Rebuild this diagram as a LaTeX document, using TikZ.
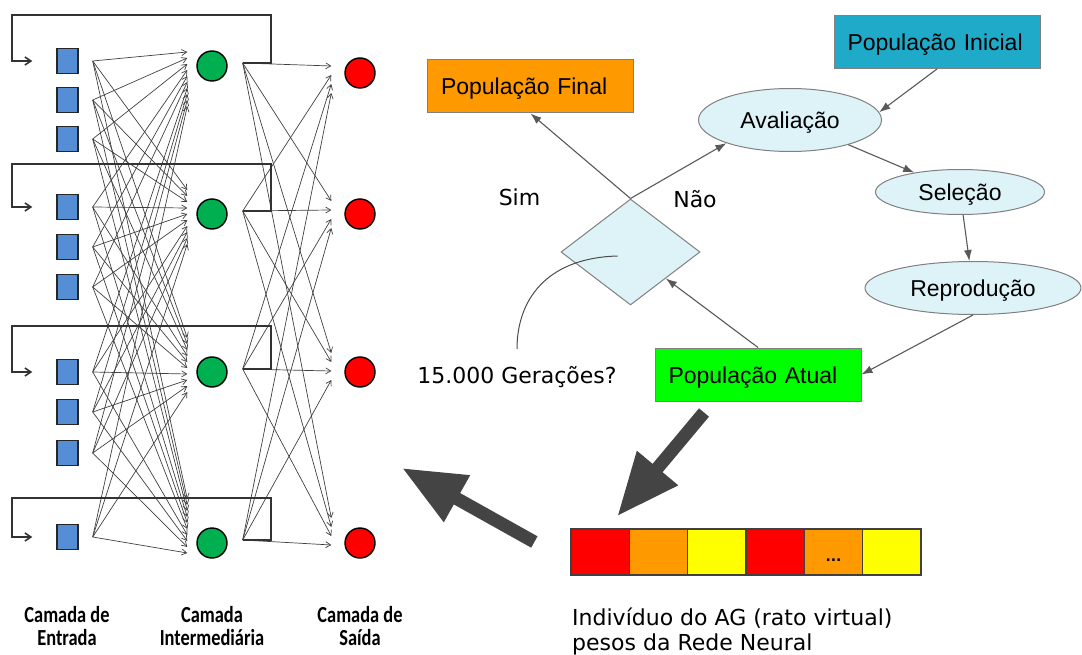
\documentclass[tikz,border=0pt]{standalone}
\usepackage{fontspec}
\setmainfont{Liberation Sans}
\newfontfamily\notefont{DejaVu Sans}
\newfontfamily\layerfont{Carlito}
\usetikzlibrary{arrows.meta, positioning, calc, shapes.geometric}

\definecolor{inblue}{RGB}{85,142,213}
\definecolor{hidgreen}{RGB}{0,176,80}
\definecolor{outred}{RGB}{255,0,0}
\definecolor{boxorange}{RGB}{255,153,0}
\definecolor{boxteal}{RGB}{30,170,200}
\definecolor{boxgreen}{RGB}{0,255,0}
\definecolor{paleblue}{RGB}{221,243,248}
\definecolor{geneyellow}{RGB}{255,255,0}
\definecolor{arrowgray}{RGB}{68,68,68}

% condensed two-line layer caption
\newcommand{\layername}[2]{\scalebox{0.8}[1]{#1}\\\scalebox{0.8}[1]{#2}}

\begin{document}
\begin{tikzpicture}[x=1pt, y=-1pt,
    inbox/.style={rectangle, draw=black!85, line width=1.4pt, fill=inblue, minimum width=21pt, minimum height=25pt, inner sep=0pt},
    hidcirc/.style={circle, draw=black, line width=1.4pt, fill=hidgreen, minimum size=30pt, inner sep=0pt},
    outcirc/.style={circle, draw=black, line width=1.4pt, fill=outred, minimum size=30pt, inner sep=0pt},
    nnlink/.style={draw=black!75, line width=0.7pt, -{Straight Barb[length=5pt, width=6pt]}},
    feedback/.style={draw=black!80, line width=1.6pt, -{Straight Barb[length=6pt, width=8pt]}},
    popbox/.style={rectangle, draw=gray, line width=1pt, minimum height=53pt, text width=179pt, text height=19pt, text depth=2pt, inner xsep=13.5pt, align=left, font=\fontsize{23}{27}\selectfont},
    stage/.style={ellipse, draw=gray, line width=1pt, fill=paleblue, inner sep=0pt, text height=19pt, text depth=2pt, font=\fontsize{23}{27}\selectfont},
    flowarrow/.style={draw=black!65, line width=1.1pt, -{Latex[length=11pt, width=8pt]}},
    note/.style={font=\notefont\fontsize{22}{25}\selectfont},
    gene/.style={rectangle, draw=black!75, line width=1.3pt, minimum width=58.33pt, minimum height=46pt, inner sep=0pt},
    bigarrow/.style={draw=arrowgray, line width=13pt, -{Triangle[length=63pt, width=50pt]}},
    layer/.style={align=center, font=\layerfont\bfseries\fontsize{23}{23}\selectfont}
  ]
  \useasboundingbox (0,0) rectangle (1082,655);

  % Neural network: input, hidden and output units
  \foreach \i/\y in {1/61, 2/100, 3/139, 4/207, 5/247, 6/287, 7/372, 8/412, 9/453, 10/537}
    \node[inbox] (in\i) at (67.5,\y) {};
  \foreach \j/\y in {1/66, 2/214, 3/372, 4/543}
    \node[hidcirc] (hid\j) at (212,\y) {};
  \foreach \k/\y in {1/73, 2/214, 3/372, 4/543}
    \node[outcirc] (out\k) at (360,\y) {};

  % Every input feeds every hidden unit
  \foreach \i in {1,...,10}
    \foreach \j in {1,...,4}
      \draw[nnlink] ([xshift=14pt]in\i.east) -- ($(hid\j.west)+(-9,{6*\i-10*\j-10})$);

  % Every hidden unit feeds every output
  \foreach \j in {1,...,4}
    \foreach \k in {1,...,4}
      \draw[nnlink] ([xshift=15pt,yshift=3pt]hid\j.east) -- ($(out\k.west)+(-13,{9*\j-6*\k-10})$);

  % Recurrent connections back to the first input of each group
  \foreach \j/\i/\t in {1/1/15, 2/4/164, 3/7/326, 4/10/498}
    \draw[feedback] ([xshift=15pt,yshift=3pt]hid\j.east) -- ++(28,0) |- (12,\t) |- ([xshift=-24pt]in\i.west);

  % Layer captions
  \node[layer] (lin) at (67,626) {\layername{Camada de}{Entrada}};
  \node[layer] (lhid) at (212,626) {\layername{Camada}{Intermediária}};
  \node[layer] (lout) at (360,626) {\layername{Camada de}{Saída}};

  % Genetic algorithm loop
  \node[popbox, fill=boxorange] (final) at (530.5,86.5) {População Final};
  \node[popbox, fill=boxteal] (ini) at (937,42) {População Inicial};
  \node[popbox, fill=boxgreen] (atual) at (758,374.5) {População Atual};
  \node[stage, minimum width=183pt, minimum height=63pt] (aval) at (790,120) {Avaliação};
  \node[stage, minimum width=169pt, minimum height=45pt] (sel) at (960,192) {Seleção};
  \node[stage, minimum width=216pt, minimum height=53pt] (rep) at (973,288) {Reprodução};
  \node[diamond, draw=gray, line width=1pt, fill=paleblue, minimum width=139pt, minimum height=106pt, inner sep=0pt] (dec) at (630.5,252) {};

  \draw[flowarrow] (ini.south) -- (aval.5);
  \draw[flowarrow] (aval) -- (sel);
  \draw[flowarrow] (sel) -- (rep);
  \draw[flowarrow] (rep.south) -- (atual.east);
  \draw[flowarrow] (atual.north) -- (dec);
  \draw[flowarrow] (dec.north) -- (aval.200);
  \draw[flowarrow] (dec.north) -- (final.south);

  \node[note] (sim) at (519.5,197) {Sim};
  \node[note] (nao) at (695,199) {Não};
  \node[note] (gen) at (517,377) {15.000 Gerações?};
  \coordinate (decmark) at ($(dec.center)+(-13,4)$);
  \draw[draw=black!70, line width=1pt] (decmark) .. controls +(-72,2) and +(0,-48) .. ([yshift=14pt]gen.north);

  % Chromosome: weights of the network
  \foreach \c [count=\k] in {outred, boxorange, geneyellow, outred, boxorange, geneyellow}
    \node[gene, fill=\c] (g\k) at ({571+58.33*(\k-0.5)},552) {};
  \node[font=\notefont\bfseries\fontsize{14}{14}\selectfont, inner sep=0pt] (dots) at ([yshift=-8pt]g5.center) {...};
  \node[note, align=left, anchor=north west, inner sep=0pt] (indiv) at (572,608) {Indivíduo do AG (rato virtual)\\pesos da Rede Neural};

  % Decoding arrows
  \coordinate (nnedge) at (402,468);
  \draw[bigarrow] ($(atual.south)+(-54,11)$) -- ($(g1.north)+(17,-12)$);
  \draw[bigarrow] ($(g1.west)+(-36,-10)$) -- (nnedge);
\end{tikzpicture}
\end{document}
